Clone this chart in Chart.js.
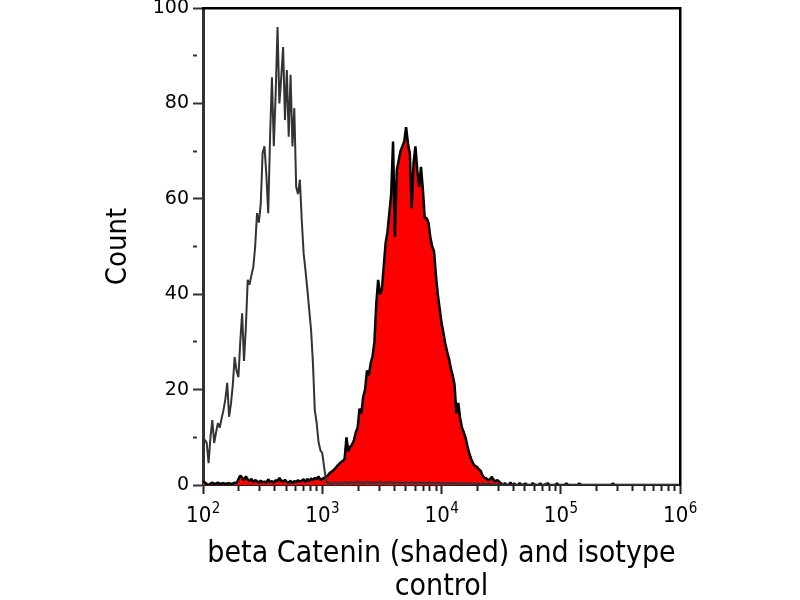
<!DOCTYPE html>
<html><head><meta charset="utf-8">
<script src="https://cdn.jsdelivr.net/npm/chart.js@4/dist/chart.umd.min.js"></script>
<style>html,body{margin:0;padding:0;background:#fff;}#wrap{width:800px;height:600px;}</style>
</head><body><div id="wrap"><canvas id="c" width="800" height="600"></canvas></div>
<script>
// Histogram channels: 256 channels spanning 4 decades (10^2 .. 10^6)
const CHANNELS = 256;
const DECADES = 4;
const FIRST_DECADE_EXP = 2;

// Isotype control (unshaded grey line), counts per channel
const isotypeCounts = [
  8, 9.5, 8.8, 4.6, 10, 13.6, 8.8, 11, 13, 12, 14, 15.7, 18, 21.4, 14.3, 17,
  21, 26.8, 24, 22.6, 30, 36, 26, 33, 43, 42, 44, 45.7, 50, 57, 55, 59,
  69.6, 71, 65, 57, 73, 85.5, 71, 82, 96, 80, 85.5, 91.8, 76.5, 87, 73, 86,
  71, 79, 62.5, 61, 64, 55.5, 48.6, 45, 41, 36.7, 32.5, 25.6, 15.7, 13, 9, 7.3,
  6.7, 3.8, 1, 0.3, 0.5, 0.2, 0.4, 0.6, 0.3, 0.5, 0.2, 0.4, 0.7, 0.3, 0.5, 0.4,
  0.6, 0.3, 0.5, 0.8, 0.4, 0.6, 0.3, 0.5, 0.7, 0.4, 0.6, 0.3, 0.5, 0.6, 0.4, 0.7,
  0.5, 0.3, 0.6, 0.4, 0.5, 0.7, 0.3, 0.5, 0.4, 0.6, 0.3, 0.5, 0.4, 0.6, 0.5, 0.3,
  0.6, 0.4, 0.5, 0.3, 0.6, 0.4, 0.5, 0.3, 0.4, 0.6, 0.3, 0.5, 0.4, 0.3, 0.5, 0.4,
  0.3, 0.5, 0.2, 0.4, 0.3, 0.5, 0.2, 0.4, 0.3, 0.2, 0.4, 0.3, 0.2, 0.3, 0.4, 0.2,
  0.3, 0.2, 0.4, 0.2, 0.3, 0.1, 0.3, 0.2, 0.1, 0.3, 0.2, 0.1, 0.2, 0, 0.1, 0,
  0, 0.2, 0, 0, 0.1, 0, 0, 0.3, 0, 0, 0, 0.2, 0, 0, 0, 0,
  0, 0, 0.2, 0, 0, 0, 0, 0, 0.3, 0, 0, 0, 0, 0, 0, 0,
  0, 0, 0, 0, 0, 0, 0, 0, 0, 0, 0, 0, 0, 0, 0, 0,
  0, 0, 0, 0, 0, 0, 0, 0, 0, 0, 0, 0, 0, 0, 0, 0,
  0, 0, 0, 0, 0, 0, 0, 0, 0, 0, 0, 0, 0, 0, 0, 0,
  0, 0, 0, 0, 0, 0, 0, 0, 0, 0, 0, 0, 0, 0, 0, 0
];

// beta Catenin stained sample (red shaded histogram), counts per channel
const shadedCounts = [
  0.8, 0.5, 0.2, 0, 0.3, 0.5, 0.2, 0.3, 0.5, 0.2, 0.3, 0.4, 0.2, 0.3, 0.4, 0.2,
  0.3, 0.5, 0.4, 1.2, 2, 1.5, 1.0, 1.8, 1.2, 0.8, 1.3, 0.6, 1.0, 0.8, 0.5, 0.9,
  0.6, 0.7, 0.5, 1.2, 0.6, 0.8, 0.5, 1.0, 0.8, 1.5, 0.9, 0.7, 1.1, 0.6, 0.5, 0.9,
  0.4, 0.8, 0.6, 1.0, 0.7, 0.9, 1.2, 0.6, 1.3, 0.8, 1.4, 1.0, 1.5, 1.2, 1.8, 1.0,
  1.3, 1.5, 1.7, 2, 2.5, 2.8, 3.1, 3.5, 4.0, 4.4, 4.8, 5, 5.5, 10, 7, 8,
  8.5, 9.4, 11, 12, 16, 15, 18.5, 20, 24, 23, 25.5, 27, 30, 38, 43, 40,
  41, 45.8, 50.7, 53, 57, 61, 72, 52, 66, 68, 70, 71, 72, 75, 71.6, 69.5,
  58, 67.5, 71, 66, 62.5, 66.7, 62, 56, 56, 55, 52, 50, 49, 44, 40, 37,
  34, 32, 29.7, 28, 26.5, 24.5, 23, 21, 15, 17.2, 14, 12, 11, 9.8, 8, 6.5,
  5.4, 4.5, 4, 3.8, 3.3, 3, 2, 1.5, 1.4, 1, 1.2, 1.7, 1, 0.8, 1, 0.7,
  0.3, 0, 0.4, 0, 0, 0.5, 0, 0.3, 0, 0, 0.4, 0, 0, 0.3, 0, 0,
  0, 0.4, 0, 0, 0, 0.3, 0, 0, 0, 0.4, 0, 0, 0, 0, 0.3, 0,
  0, 0, 0, 0.3, 0, 0, 0, 0, 0, 0, 0.3, 0, 0, 0, 0, 0,
  0, 0, 0, 0, 0, 0, 0, 0, 0, 0, 0, 0, 0.3, 0, 0, 0,
  0, 0, 0, 0, 0, 0, 0, 0, 0, 0, 0, 0, 0, 0, 0, 0,
  0, 0, 0, 0, 0, 0, 0, 0, 0, 0, 0, 0, 0, 0, 0, 0
];

// Axis ticks
const xDecadeStarts = [100, 1000, 10000, 100000];
const xTickMultipliers = [1, 2, 3, 4, 5, 6, 7, 8, 9];
const xEnd = 1000000;
const xMajorValues = [100, 1000, 10000, 100000, 1000000];
const xMajorExponents = ['2', '3', '4', '5', '6'];
const xMajorBase = '10';
const yTickValues = [0, 10, 20, 30, 40, 50, 60, 70, 80, 90, 100];
const yMajorLabels = [0, 20, 40, 60, 80, 100];

const xTitleLines = ['beta Catenin (shaded) and isotype', 'control'];
const yTitle = 'Count';

// channel index -> fluorescence value on the log axis
const channelValue = ch => Math.pow(10, FIRST_DECADE_EXP + ch * DECADES / CHANNELS);

const xTicks = [];
xDecadeStarts.forEach(d => xTickMultipliers.forEach(m => xTicks.push(d * m)));
xTicks.push(xEnd);

const FONT = 'DejaVu Sans';
const FONT_C = '"DejaVu Sans Condensed", "DejaVu Sans"';

// Draws the power-of-ten labels (base + raised exponent) at the x scale's tick pixels
const powerLabels = {
  id: 'powerLabels',
  afterDraw(chart) {
    const sx = chart.scales.x;
    const ctx = chart.ctx;
    ctx.save();
    ctx.fillStyle = '#000';
    ctx.textBaseline = 'alphabetic';
    xMajorValues.forEach((v, i) => {
      const px = sx.getPixelForValue(v);
      ctx.font = '22px ' + FONT_C;
      const wb = ctx.measureText(xMajorBase).width;
      ctx.font = '15px ' + FONT_C;
      const we = ctx.measureText(xMajorExponents[i]).width;
      const left = px - (wb + we) / 2;
      const baseY = sx.top + 37;
      ctx.font = '22px ' + FONT_C;
      ctx.fillText(xMajorBase, left, baseY);
      ctx.font = '15px ' + FONT_C;
      ctx.fillText(xMajorExponents[i], left + wb + 0.5, baseY - 9);
    });
    ctx.restore();
  }
};

new Chart(document.getElementById('c'), {
  type: 'line',
  plugins: [powerLabels],
  data: {
    datasets: [
      {
        label: 'isotype',
        data: isotypeCounts.map((c, i) => ({x: channelValue(i), y: c})),
        borderColor: '#333333',
        borderWidth: 2,
        borderJoinStyle: 'bevel',
        fill: false,
        pointRadius: 0,
        tension: 0
      },
      {
        label: 'beta Catenin',
        data: shadedCounts.map((c, i) => ({x: channelValue(i), y: c})),
        borderColor: '#000000',
        borderWidth: 2.5,
        borderJoinStyle: 'bevel',
        backgroundColor: '#ff0000',
        fill: 'origin',
        pointRadius: 0,
        tension: 0
      }
    ]
  },
  options: {
    responsive: false,
    animation: false,
    devicePixelRatio: 1,
    layout: {padding: {left: 100, right: 120, top: 8, bottom: 0}},
    plugins: {legend: {display: false}, tooltip: {enabled: false}},
    scales: {
      x: {
        type: 'logarithmic',
        position: 'bottom',
        min: 100,
        max: xEnd,
        afterBuildTicks: s => { s.ticks = xTicks.map(v => ({value: v})); },
        afterFit: s => { s.height = 115; s.paddingLeft = 0; s.paddingRight = 0; },
        ticks: {
          autoSkip: false,
          maxRotation: 0,
          minRotation: 0,
          callback: () => ''
        },
        grid: {
          drawOnChartArea: false,
          drawTicks: true,
          tickLength: 9,
          tickWidth: 2,
          tickColor: '#222',
          tickBorderDash: ctx => (ctx.tick && xMajorValues.includes(ctx.tick.value)) ? [] : [5, 50]
        },
        border: {display: true, color: '#222', width: 2},
        title: {
          display: true,
          text: xTitleLines,
          color: '#000',
          font: {family: FONT_C, size: 30, lineHeight: 1.08},
          padding: {top: 0, bottom: -3}
        }
      },
      y: {
        type: 'linear',
        position: 'left',
        min: 0,
        max: 100,
        afterBuildTicks: s => { s.ticks = yTickValues.map(v => ({value: v})); },
        afterFit: s => { s.width = 103; s.paddingTop = 0; s.paddingBottom = 0; },
        ticks: {
          padding: 4,
          color: '#000',
          font: {family: FONT, size: 19},
          callback: v => yMajorLabels.includes(v) ? String(v) : ''
        },
        grid: {
          drawOnChartArea: false,
          drawTicks: true,
          tickLength: 10,
          tickWidth: 2,
          tickColor: '#333',
          tickBorderDash: ctx => (ctx.tick && yMajorLabels.includes(ctx.tick.value)) ? [] : [4, 50]
        },
        border: {display: true, color: '#333', width: 3},
        title: {
          display: true,
          text: yTitle,
          color: '#000',
          font: {family: FONT_C, size: 29, lineHeight: 1.1},
          padding: {top: 3, bottom: 0}
        }
      },
      xTop: {
        type: 'linear',
        position: 'top',
        display: true,
        afterFit: s => { s.height = 0; },
        ticks: {display: false},
        grid: {display: false},
        border: {display: true, color: '#000', width: 2.5}
      },
      yRight: {
        type: 'linear',
        position: 'right',
        display: true,
        afterFit: s => { s.width = 0; },
        ticks: {display: false},
        grid: {display: false},
        border: {display: true, color: '#000', width: 2.5}
      }
    }
  }
});
</script>
</body></html>
